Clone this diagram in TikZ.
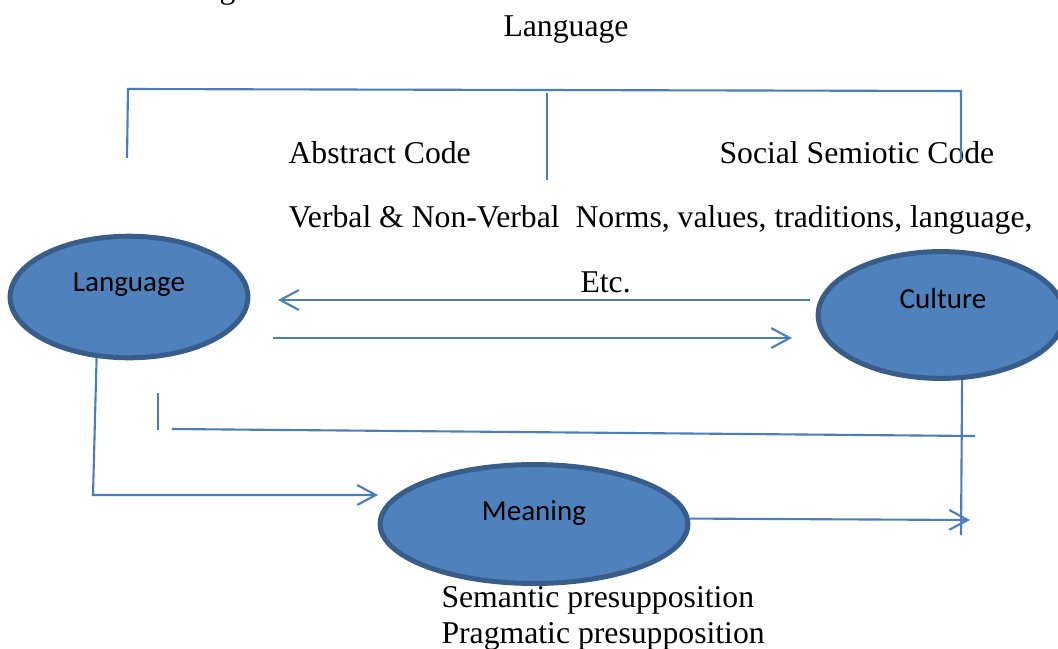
\documentclass[tikz,border=0pt]{standalone}
\usepackage{fontspec}
\setmainfont{Liberation Serif}
\newfontfamily\calibri{Carlito}
\usetikzlibrary{shapes.geometric,arrows.meta}
\definecolor{fillblue}{HTML}{4F81BD}
\definecolor{edgeblue}{HTML}{385D8A}
\definecolor{lineblue}{HTML}{4A7EBB}

\begin{document}
\begin{tikzpicture}[x=0.3785pt, y=-0.3785pt,
	bubble/.style={ellipse, draw=edgeblue, fill=fillblue, line width=1.9pt, inner sep=0pt},
	bubbletext/.style={font=\calibri\fontsize{11}{13}\selectfont, anchor=base, inner sep=0pt},
	plain/.style={font=\fontsize{12}{14}\selectfont, anchor=base west, inner sep=0pt},
	link/.style={draw=lineblue, line width=0.8pt},
	linkarrow/.style={link, -{Straight Barb[length=7pt, width=7.5pt]}}]
	\useasboundingbox (0,0) rectangle (1058,648);

	% the three bubbles
	\node [bubble, minimum width=90pt, minimum height=46pt] (lang) at (129,297) {};
	\node [bubble, minimum width=93pt, minimum height=48pt] (cult) at (941,315) {};
	\node [bubble, minimum width=116.5pt, minimum height=45pt] (mean) at (534,524) {};
	\node [bubbletext] (langtext) at (129,291) {Language};
	\node [bubbletext] (culttext) at (943,308) {Culture};
	\node [bubbletext] (meantext) at (534,520) {Meaning};

	% texts
	\node [plain] (cutg) at (219,-2) {g};
	\node [plain, anchor=base] (title) at (566,36) {Language};
	\node [plain] (abstract) at (288,163) {Abstract Code};
	\node [plain] (social) at (719,163) {Social Semiotic Code};
	\node [plain] (verbal) at (288,227) {Verbal \& Non-Verbal};
	\node [plain] (norms) at (575,227) {Norms, values, traditions, language,};
	\node [plain] (etc) at (580,292) {Etc.};
	\node [plain] (semantic) at (441,607) {Semantic presupposition};
	\node [plain] (pragmatic) at (441,643) {Pragmatic presupposition};

	% free ends
	\coordinate (brl) at (127,158);
	\coordinate (brtl) at (128,89);
	\coordinate (brtr) at (961,91);
	\coordinate (brr) at (961,160);
	\coordinate (midtop) at (547,93);
	\coordinate (midbot) at (547,180);
	\coordinate (backfrom) at (810,300);
	\coordinate (backto) at (278,300);
	\coordinate (forthfrom) at (273,338);
	\coordinate (forthto) at (792,338);
	\coordinate (langcorner) at (93,495);
	\coordinate (meanin) at (378,495);
	\coordinate (ticktop) at (158,393);
	\coordinate (tickbot) at (158,430);
	\coordinate (crossl) at (172,429);
	\coordinate (crossr) at (975,436);
	\coordinate (cultbot) at (961,535);
	\coordinate (meanout) at (970,520);

	\draw [link] (brl) -- (brtl) -- (brtr) -- (brr);
	\draw [link] (midtop) -- (midbot);
	\draw [linkarrow] (backfrom) -- (backto);
	\draw [linkarrow] (forthfrom) -- (forthto);
	\draw [linkarrow] (lang.-118) -- (langcorner) -- (meanin);
	\draw [link] (ticktop) -- (tickbot);
	\draw [link] (crossl) -- (crossr);
	\draw [link] (cult.-72) -- (cultbot);
	\draw [linkarrow] (mean.2) -- (meanout);
\end{tikzpicture}
\end{document}
